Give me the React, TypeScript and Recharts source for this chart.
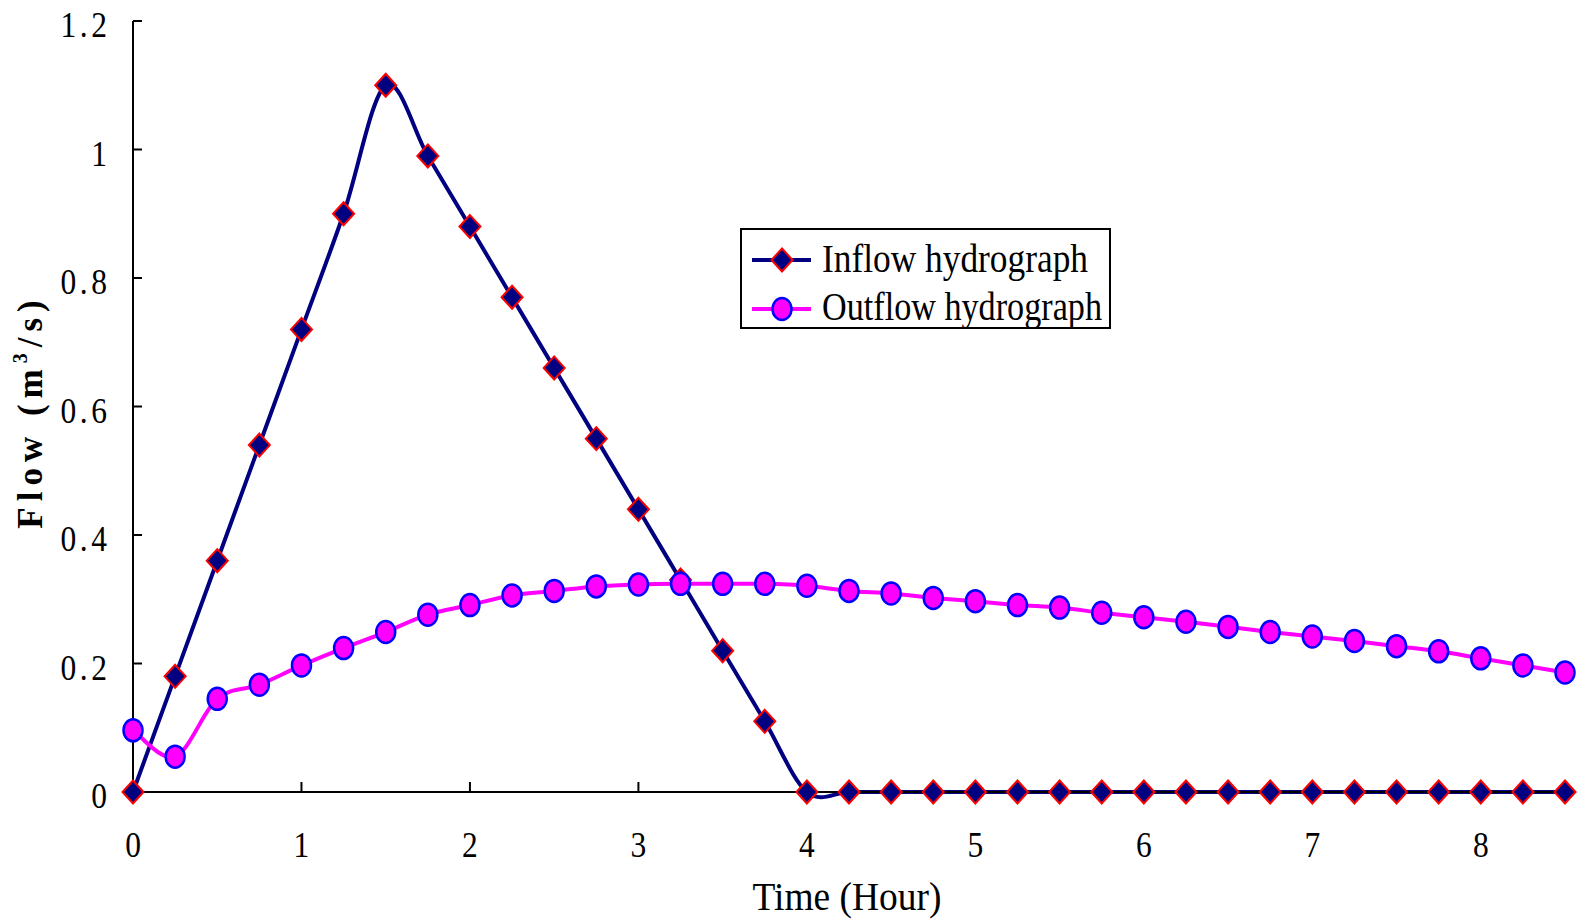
import React from 'react';
import { LineChart, Line, XAxis, YAxis, Legend, Label } from 'recharts';

const hours = [0, 0.25, 0.5, 0.75, 1, 1.25, 1.5, 1.75, 2, 2.25, 2.5, 2.75, 3, 3.25, 3.5, 3.75, 4, 4.25, 4.5, 4.75, 5, 5.25, 5.5, 5.75, 6, 6.25, 6.5, 6.75, 7, 7.25, 7.5, 7.75, 8, 8.25, 8.5];
const inflow = [0, 0.18, 0.36, 0.54, 0.72, 0.9, 1.1, 0.99, 0.88, 0.77, 0.66, 0.55, 0.44, 0.33, 0.22, 0.11, 0, 0, 0, 0, 0, 0, 0, 0, 0, 0, 0, 0, 0, 0, 0, 0, 0, 0, 0];
const outflow = [0.096, 0.055, 0.145, 0.167, 0.197, 0.224, 0.249, 0.276, 0.291, 0.306, 0.313, 0.32, 0.323, 0.324, 0.324, 0.324, 0.321, 0.313, 0.309, 0.302, 0.297, 0.291, 0.287, 0.279, 0.272, 0.265, 0.257, 0.249, 0.242, 0.235, 0.227, 0.219, 0.208, 0.197, 0.186];
const xTicks = [0, 1, 2, 3, 4, 5, 6, 7, 8];
const yTicks = [0, 0.2, 0.4, 0.6, 0.8, 1, 1.2];
const seriesNames = ['Inflow hydrograph', 'Outflow hydrograph'];

const data = hours.map((t, i) => ({ t, inflow: inflow[i], outflow: outflow[i] }));

const FONT = '"Liberation Serif", "Times New Roman", serif';

// Excel-like smoothed curve (Catmull-Rom through the points)
const excelSmooth = (context: any) => {
  let pts: [number, number][] = [];
  return {
    areaStart() {},
    areaEnd() {},
    lineStart() { pts = []; },
    lineEnd() {
      const n = pts.length;
      if (n === 0) return;
      context.moveTo(pts[0][0], pts[0][1]);
      for (let i = 0; i < n - 1; i++) {
        const p0 = pts[Math.max(i - 1, 0)];
        const p1 = pts[i];
        const p2 = pts[i + 1];
        const p3 = pts[Math.min(i + 2, n - 1)];
        context.bezierCurveTo(
          p1[0] + (p2[0] - p0[0]) / 6, p1[1] + (p2[1] - p0[1]) / 6,
          p2[0] - (p3[0] - p1[0]) / 6, p2[1] - (p3[1] - p1[1]) / 6,
          p2[0], p2[1]
        );
      }
    },
    point(x: number, y: number) { pts.push([+x, +y]); },
  };
};

const Diamond = ({ cx, cy }: any) => {
  const sx = 10.5;
  const sy = 11.5;
  return (
    <polygon
      points={`${cx},${cy - sy} ${cx + sx},${cy} ${cx},${cy + sy} ${cx - sx},${cy}`}
      fill="#000080"
      stroke="#FF0000"
      strokeWidth={2}
    />
  );
};
const Ellipse = ({ cx, cy }: any) => (
  <ellipse cx={cx} cy={cy} rx={9.5} ry={11} fill="#FF00FF" stroke="#0000FF" strokeWidth={2.5} />
);

const renderDiamondDot = (props: any) => {
  const { cx, cy, index } = props;
  if (cx == null || cy == null) return <g key={`d-${index}`} />;
  return <g key={`d-${index}`}><Diamond cx={cx} cy={cy} /></g>;
};
const renderEllipseDot = (props: any) => {
  const { cx, cy, index } = props;
  if (cx == null || cy == null) return <g key={`e-${index}`} />;
  return <g key={`e-${index}`}><Ellipse cx={cx} cy={cy} /></g>;
};

const tickText = (label: string, x: number, y: number, anchor: string) => {
  const sx = 0.9;
  const extra: any = {};
  if (label.length > 1) {
    extra.textLength = (label.length * 15.5) / sx;
    extra.lengthAdjust = 'spacing';
  }
  return (
    <text
      x={0}
      y={0}
      transform={`translate(${x},${y}) scale(${sx},1)`}
      textAnchor={anchor}
      fontFamily={FONT}
      fontSize={35}
      fill="#000"
      {...extra}
    >
      {label}
    </text>
  );
};

const XTick = (props: any) => {
  const { x, y, payload } = props;
  return <g>{tickText(String(payload.value), x, y + 55, 'middle')}</g>;
};
const YTick = (props: any) => {
  const { x, y, payload } = props;
  return <g>{tickText(String(payload.value), x, y + 16, 'end')}</g>;
};

const XTitle = (props: any) => {
  const vb = props.viewBox || { x: 133, y: 792, width: 1432, height: 127 };
  const cx = vb.x + vb.width / 2 - 2;
  return (
    <text
      x={0}
      y={0}
      transform={`translate(${cx},${vb.y + 118}) scale(1,1.1)`}
      textAnchor="middle"
      fontFamily={FONT}
      fontSize={37}
      fill="#000"
      textLength={189}
      lengthAdjust="spacingAndGlyphs"
    >
      Time (Hour)
    </text>
  );
};

const YTitle = (props: any) => {
  const vb = props.viewBox || { x: 0, y: 21, width: 133, height: 771 };
  const cx = vb.x + 42;
  const cy = vb.y + vb.height / 2 + 5;
  return (
    <text
      transform={`translate(${cx},${cy}) rotate(-90)`}
      x={0}
      y={0}
      textAnchor="middle"
      fontFamily={FONT}
      fontWeight="bold"
      fontSize={35}
      fill="#000"
      letterSpacing={6}
    >
      <tspan>Flow (m</tspan>
      <tspan fontSize={20} dy={-15}>3</tspan>
      <tspan dy={15}>/s)</tspan>
    </text>
  );
};

const LegendBox = () => (
  <svg width={371} height={101} style={{ display: 'block' }}>
    <rect x={1} y={1} width={369} height={99} fill="#fff" stroke="#000" strokeWidth={2} />
    <line x1={12} y1={32} x2={71} y2={32} stroke="#000080" strokeWidth={4} />
    <Diamond cx={42} cy={32} />
    <text x={0} y={0} transform="translate(82,44) scale(1,1.15)" fontFamily={FONT} fontSize={34} fill="#000" textLength={266} lengthAdjust="spacingAndGlyphs">
      {seriesNames[0]}
    </text>
    <line x1={12} y1={81} x2={71} y2={81} stroke="#FF00FF" strokeWidth={4} />
    <Ellipse cx={42} cy={81} />
    <text x={0} y={0} transform="translate(82,92) scale(1,1.15)" fontFamily={FONT} fontSize={34} fill="#000" textLength={280} lengthAdjust="spacingAndGlyphs">
      {seriesNames[1]}
    </text>
  </svg>
);

export default function App() {
  return (
    <div>
      <style>{'body{margin:0;background:#fff}'}</style>
      <LineChart
        width={1585}
        height={919}
        data={data}
        margin={{ top: 21, right: 20, bottom: 0, left: 0 }}
      >
        <XAxis
          dataKey="t"
          type="number"
          domain={[0, 8.5]}
          ticks={xTicks}
          interval={0}
          height={127}
          axisLine={{ stroke: '#000', strokeWidth: 2 }}
          tickLine={{ stroke: '#000', strokeWidth: 2 }}
          tickSize={-10}
          tickMargin={20}
          tick={XTick}
        >
          <Label content={XTitle} />
        </XAxis>
        <YAxis
          type="number"
          domain={[0, 1.2]}
          ticks={yTicks}
          interval={0}
          width={133}
          axisLine={{ stroke: '#000', strokeWidth: 2 }}
          tickLine={{ stroke: '#000', strokeWidth: 2 }}
          tickSize={-9}
          tickMargin={35}
          tick={YTick}
        >
          <Label content={YTitle} />
        </YAxis>
        <Legend
          layout="vertical"
          align="center"
          verticalAlign="middle"
          width={371}
          height={101}
          wrapperStyle={{ left: 740, top: 228, width: 371, height: 101 }}
          content={() => <LegendBox />}
        />
        <Line
          dataKey="inflow"
          name={seriesNames[0]}
          type={excelSmooth as any}
          stroke="#000080"
          strokeWidth={4}
          dot={renderDiamondDot}
          activeDot={false}
          isAnimationActive={false}
        />
        <Line
          dataKey="outflow"
          name={seriesNames[1]}
          type={excelSmooth as any}
          stroke="#FF00FF"
          strokeWidth={4}
          dot={renderEllipseDot}
          activeDot={false}
          isAnimationActive={false}
        />
      </LineChart>
    </div>
  );
}
